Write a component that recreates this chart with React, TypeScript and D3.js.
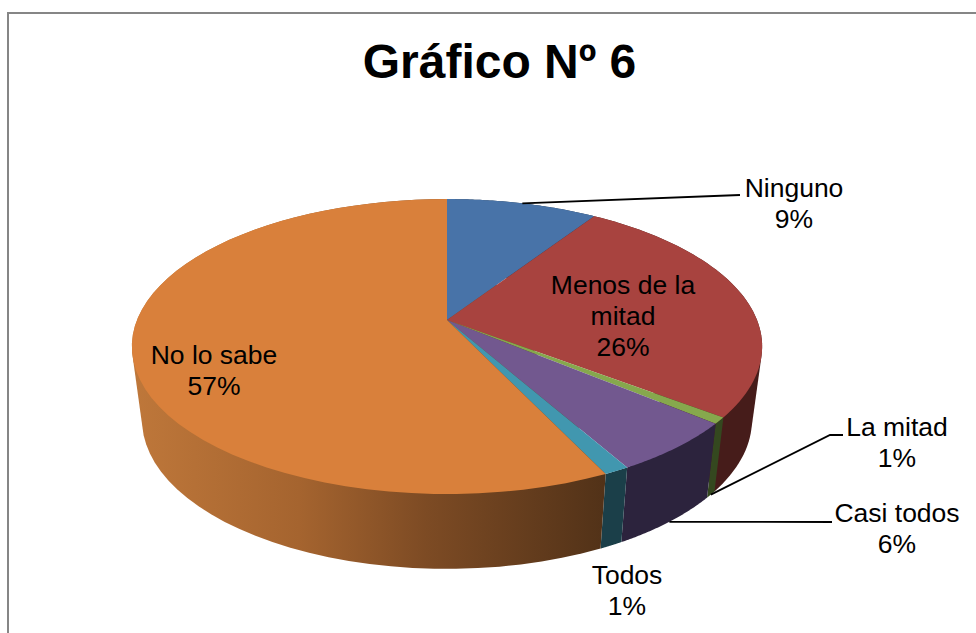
import React from "react";
import * as d3 from "d3";

const categories = ["Ninguno", "Menos de la mitad", "La mitad", "Casi todos", "Todos", "No lo sabe"];
const values = [9.2, 26.2, 0.7, 5.75, 1.1, 57.05];
const topColors = ["#4873A8", "#A8433F", "#86A84D", "#72588F", "#4197AF", "#D9803B"];
const sideStops: [number, string][][] = [
  [[0, "#24394F"], [1, "#24394F"]],
  [[0, "#461C1A"], [1, "#461C1A"]],
  [[0, "#34481F"], [1, "#34481F"]],
  [[0, "#2C233D"], [1, "#2C233D"]],
  [[0, "#1B3F49"], [1, "#1B3F49"]],
  [[0, "#BE773A"], [0.35, "#A5642F"], [0.62, "#7D4B24"], [1, "#523218"]],
];
const labelLines = [["Ninguno"], ["Menos de la", "mitad"], ["La mitad"], ["Casi todos"], ["Todos"], ["No lo sabe"]];
const labelPos = [[794, 197], [623, 294], [897, 436], [897, 522], [627, 584], [214, 364]];
const leaderEnds: ([number, number][] | null)[] = [[[740, 195]], null, [[830, 435], [843, 435]], [[832, 522]], null, null];
const leaderOnBottom = [false, false, true, true, false, false];

const W = 976, H = 633;
const apex = { x: 447, y: 320 };
const k = 0.18;
const topRim = { a: 310, b: 142.7, cy: apex.y };
const botRim = { a: 300, b: 144.2, cy: 393 };

type Rim = typeof topRim;
const project = (rim: Rim, t: number): [number, number] => {
  const X = Math.sin(t), Y = Math.cos(t), w = 1 + k * Y;
  return [apex.x + (rim.a * X) / w, rim.cy - (rim.b * Y) / w];
};

const pie = d3.pie<number>().sort(null).startAngle(0).endAngle(2 * Math.PI);
const arcs = pie(values);
const line = d3.line();
const sample = (a: number, b: number) => d3.range(0, 61).map((i) => a + ((b - a) * i) / 60);
const font = "'Liberation Sans', Arial, sans-serif";

export default function App() {
  const total = d3.sum(values);
  return (
    <svg width={W} height={H} style={{ position: "absolute", left: 0, top: 0, background: "#fff" }}>
      <defs>
        {sideStops.map((stops, i) => (
          <linearGradient key={i} id={`side${i}`} gradientUnits="userSpaceOnUse" x1={135} x2={604} y1={0} y2={0}>
            {stops.map(([o, c], j) => <stop key={j} offset={o} stopColor={c} />)}
          </linearGradient>
        ))}
      </defs>
      <path d="M8,633V13H976" fill="none" stroke="#868686" strokeWidth={2} />
      <text x={499.5} y={78} textAnchor="middle" fontFamily={font} fontWeight="bold" fontSize={48}>Gráfico Nº 6</text>
      {arcs.map((d, i) => {
        const ts = sample(d.startAngle, d.endAngle);
        const pts = [...ts.map((t) => project(topRim, t)), ...ts.map((t) => project(botRim, t))];
        const hull = d3.polygonHull(pts)!;
        return <path key={i} d={line(hull)! + "Z"} fill={`url(#side${i})`} />;
      })}
      {arcs.map((d, i) => {
        const ts = sample(d.startAngle, d.endAngle);
        const pts: [number, number][] = [[apex.x, apex.y], ...ts.map((t) => project(topRim, t))];
        return <path key={i} d={line(pts)! + "Z"} fill={topColors[i]} />;
      })}
      {arcs.map((d, i) => {
        const ends = leaderEnds[i];
        if (!ends) return null;
        const mid = (d.startAngle + d.endAngle) / 2;
        const start = project(leaderOnBottom[i] ? botRim : topRim, mid);
        return <path key={i} d={line([start, ...ends])!} fill="none" stroke="#000" strokeWidth={1.8} />;
      })}
      {categories.map((c, i) => {
        const lines = [...labelLines[i], `${Math.round((values[i] / total) * 100)}%`];
        return (
          <text key={c} x={labelPos[i][0]} y={labelPos[i][1]} textAnchor="middle" fontFamily={font} fontSize={26.5} fill="#000">
            {lines.map((l, j) => <tspan key={j} x={labelPos[i][0]} dy={j === 0 ? 0 : 31}>{l}</tspan>)}
          </text>
        );
      })}
    </svg>
  );
}
